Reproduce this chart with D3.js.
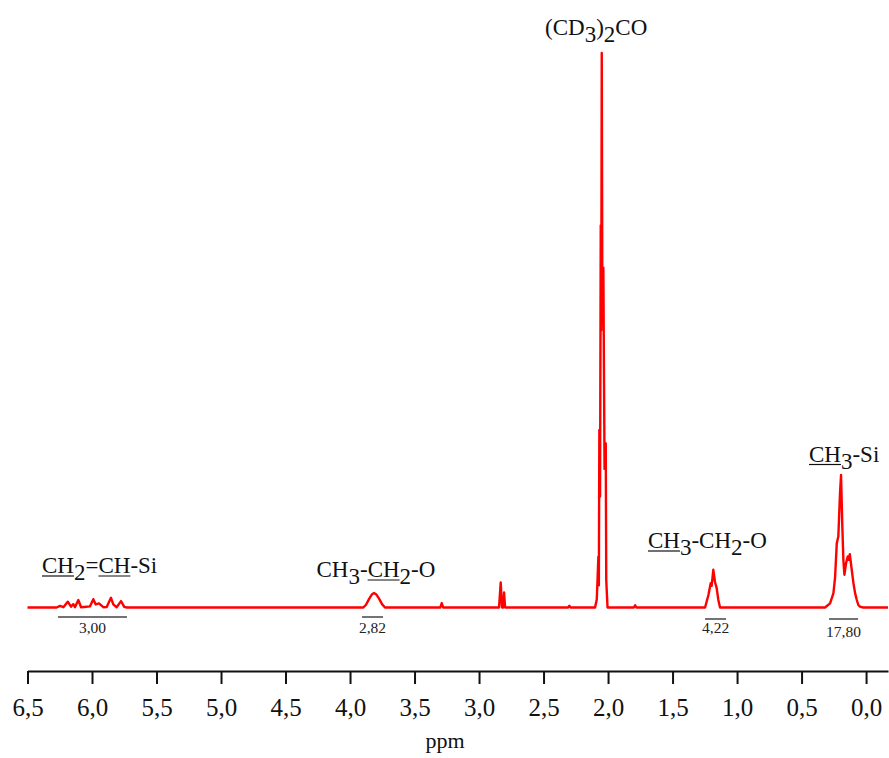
<!DOCTYPE html>
<html>
<head>
<meta charset="utf-8">
<script src="https://cdn.jsdelivr.net/npm/d3@7"></script>
<style>
  html, body { margin: 0; padding: 0; background: #fff; }
  svg { display: block; }
</style>
</head>
<body>
<svg id="chart" width="889" height="758"></svg>
<script>
// ---- Data ----
const vinylPpm = [6.50, 6.274, 6.248, 6.222, 6.188, 6.163, 6.145, 6.132, 6.106, 6.085, 6.060, 6.016, 5.990, 5.971, 5.946, 5.912, 5.886, 5.853, 5.835, 5.809, 5.775, 5.750, 5.731];
const vinylInt = [0, 0, 0.3, 0.05, 1.05, 0.15, 0.6, 0.05, 1.35, 0.05, 0.1, 0.2, 1.5, 0.55, 0.75, 0.05, 0.1, 1.75, 0.55, 0.05, 1.15, 0.1, 0];

const ethoxyCH2Ppm = [3.897, 3.876, 3.853, 3.829, 3.814, 3.798, 3.775, 3.752, 3.729, 3.30, 3.289, 3.278];
const ethoxyCH2Int = [0, 0.5, 1.5, 2.4, 2.6, 2.4, 1.6, 0.6, 0, 0, 0.8, 0];

const impurityPpm = [2.845, 2.832, 2.822, 2.812, 2.806, 2.798, 2.31, 2.30, 2.29];
const impurityInt = [0, 4.5, 0, 0, 2.7, 0, 0, 0.3, 0];

const acetonePpm = [2.1008, 2.0876, 2.0814, 2.0752, 2.0713, 2.0674, 2.0620, 2.0566, 2.0527, 2.0488, 2.0442, 2.0364, 2.0271, 2.0178, 2.0140, 2.0101, 2.0039, 1.80, 1.79, 1.78];
const acetoneInt = [0, 1.4, 5, 9.1, 4, 32, 20, 68.9, 50, 100, 55, 61.3, 25, 29.6, 5, 3, 0, 0, 0.4, 0];

const ethoxyCH3Ppm = [1.248, 1.222, 1.204, 1.197, 1.184, 1.171, 1.158, 1.145, 1.132];
const ethoxyCH3Int = [0, 2.25, 4.4, 3.9, 6.8, 4.6, 3.5, 1.35, 0];

const siMethylPpm = [0.318, 0.279, 0.253, 0.240, 0.227, 0.215, 0.202, 0.194, 0.184, 0.176, 0.168, 0.155, 0.142, 0.134, 0.126, 0.114, 0.098, 0.085, 0.072, 0.060, 0.047, 0.023, -0.17];
const siMethylInt = [0, 0.75, 2.6, 5.5, 11.6, 12.8, 20.6, 23.9, 14.6, 8.6, 5.9, 8, 9.2, 8.6, 9.6, 7.35, 4.4, 2.6, 1.35, 0.45, 0.15, 0, 0];

const tickValues = [6.5, 6.0, 5.5, 5.0, 4.5, 4.0, 3.5, 3.0, 2.5, 2.0, 1.5, 1.0, 0.5, 0.0];
const tickLabels = ["6,5", "6,0", "5,5", "5,0", "4,5", "4,0", "3,5", "3,0", "2,5", "2,0", "1,5", "1,0", "0,5", "0,0"];
const xAxisTitle = "ppm";

const integralFrom = [6.264, 3.907, 1.248, 0.287];
const integralTo = [5.729, 3.744, 1.085, 0.062];
const integralLabels = ["3,00", "2,82", "4,22", "17,80"];

// annotation parts: t = text, s = subscript, u = underlined
const annotationParts = [
  [{t:"CH",u:1},{t:"2",s:1},{t:"="},{t:"CH",u:1},{t:"-Si"}],
  [{t:"CH"},{t:"3",s:1},{t:"-"},{t:"CH",u:1},{t:"2",s:1},{t:"-O"}],
  [{t:"(CD"},{t:"3",s:1},{t:")"},{t:"2",s:1},{t:"CO"}],
  [{t:"CH",u:1},{t:"3",s:1},{t:"-CH"},{t:"2",s:1},{t:"-O"}],
  [{t:"CH",u:1},{t:"3",s:1},{t:"-Si"}]
];

// ---- Layout ----
const svg = d3.select("#chart");
const serif = "'Liberation Serif', 'Times New Roman', serif";
const x = d3.scaleLinear().domain([6.5, -0.17]).range([27.5, 888]);
const y = d3.scaleLinear().domain([0, 100]).range([607.5, 53]);
const axisY = 671;

const ppmAll = [].concat(vinylPpm, ethoxyCH2Ppm, impurityPpm, acetonePpm, ethoxyCH3Ppm, siMethylPpm);
const intAll = [].concat(vinylInt, ethoxyCH2Int, impurityInt, acetoneInt, ethoxyCH3Int, siMethylInt);
const spectrum = ppmAll.map((p, i) => ({ppm: p, v: intAll[i]}));

svg.append("path")
  .datum(spectrum)
  .attr("fill", "none")
  .attr("stroke", "#ff0000")
  .attr("stroke-width", 2.4)
  .attr("stroke-linejoin", "round")
  .attr("d", d3.line().x(d => x(d.ppm)).y(d => y(d.v)));

// ---- Axis ----
const axis = d3.axisBottom(x)
  .tickValues(tickValues)
  .tickFormat((d, i) => tickLabels[i])
  .tickSize(13)
  .tickSizeOuter(0);
const gAxis = svg.append("g").attr("transform", `translate(0,${axisY})`).call(axis);
gAxis.select(".domain").attr("stroke", "#111").attr("stroke-width", 2);
gAxis.selectAll(".tick line").attr("stroke", "#111").attr("stroke-width", 2);
gAxis.selectAll(".tick text")
  .attr("y", 45).attr("dy", 0)
  .attr("fill", "#111")
  .style("font-family", serif).style("font-size", "25px");

svg.append("text")
  .attr("x", 445).attr("y", 748)
  .attr("text-anchor", "middle")
  .style("font-family", serif).style("font-size", "22px")
  .attr("fill", "#111")
  .text(xAxisTitle);

// ---- Integrals ----
const integralLineY = [617, 617, 619, 619];
const integralTextY = [633, 633, 633, 637];
integralLabels.forEach((lab, i) => {
  svg.append("line")
    .attr("x1", x(integralFrom[i])).attr("x2", x(integralTo[i]))
    .attr("y1", integralLineY[i]).attr("y2", integralLineY[i])
    .attr("stroke", "#444").attr("stroke-width", 1.5);
  svg.append("text")
    .attr("x", (x(integralFrom[i]) + x(integralTo[i])) / 2)
    .attr("y", integralTextY[i])
    .attr("text-anchor", "middle")
    .style("font-family", serif).style("font-size", "15.5px")
    .attr("fill", "#222")
    .text(lab);
});

// ---- Annotations ----
const annX = [42, 316.5, 545, 648, 809];
const annY = [573, 577, 35, 548, 461.5];
const subDy = 7;
annotationParts.forEach((parts, k) => {
  const t = svg.append("text")
    .attr("x", annX[k]).attr("y", annY[k])
    .style("font-family", serif).style("font-size", "23px")
    .attr("fill", "#111");
  let offset = 0;
  let lowered = false;
  const ranges = [];
  parts.forEach(p => {
    const ts = t.append("tspan").text(p.t);
    if (p.s && !lowered) { ts.attr("dy", subDy); lowered = true; }
    else if (!p.s && lowered) { ts.attr("dy", -subDy); lowered = false; }
    if (p.u) ranges.push([offset, offset + p.t.length - 1]);
    offset += p.t.length;
  });
  const node = t.node();
  ranges.forEach(r => {
    const x1 = node.getStartPositionOfChar(r[0]).x;
    const x2 = node.getEndPositionOfChar(r[1]).x;
    svg.append("line")
      .attr("x1", x1).attr("x2", x2)
      .attr("y1", annY[k] + 3).attr("y2", annY[k] + 3)
      .attr("stroke", "#111").attr("stroke-width", 1.2);
  });
});
</script>
</body>
</html>
